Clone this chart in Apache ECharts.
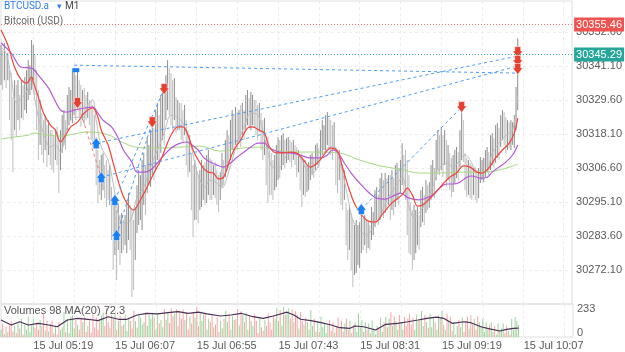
<!DOCTYPE html>
<html>
<head>
<meta charset="utf-8">
<title>BTCUSD.a M1</title>
<script src="https://cdn.jsdelivr.net/npm/echarts@6/dist/echarts.min.js"></script>
<style>
  html, body { margin: 0; padding: 0; background: #fff; }
  #chart { width: 625px; height: 352px; }
</style>
</head>
<body>
<div id="chart"></div>
<script>
// M1 bars of 15 Jul, first bar 05:00, axis runs on to 10:36
const firstMinute = 5 * 60;
const slotCount = 337;
const labelFirst = 19;   // 05:19
const labelStep = 48;
const gridStep = 24;

const priceTicks = [30272.1, 30283.6, 30295.1, 30306.6, 30318.1, 30329.6, 30341.1, 30352.6];
const volumeTicks = [0, 233];
const askPrice = 30355.46;
const bidPrice = 30345.29;

const highs = [
  30348.2, 30346.5, 30348.9, 30344.8, 30345.5, 30339.7, 30338.7, 30330.6, 30336.3, 30334.7,
  30336.3, 30331.3, 30336.3, 30334.7, 30337.4, 30339.7, 30343.1, 30341.4, 30349.9, 30348.2,
  30344.8, 30339.7, 30333.0, 30329.6, 30325.2, 30322.8, 30324.5, 30321.1, 30322.8, 30319.4,
  30319.4, 30317.7, 30319.4, 30320.5, 30316.1, 30319.4, 30324.5, 30326.2, 30322.8, 30331.3,
  30334.0, 30333.0, 30339.1, 30339.7, 30338.0, 30339.1, 30336.3, 30334.7, 30333.0, 30333.6,
  30331.3, 30332.3, 30329.6, 30329.6, 30327.9, 30324.5, 30317.1, 30312.7, 30309.3, 30311.0,
  30311.7, 30307.6, 30309.3, 30305.9, 30307.6, 30300.2, 30295.8, 30297.5, 30292.4, 30294.8,
  30290.7, 30291.4, 30289.0, 30290.7, 30295.8, 30298.1, 30294.1, 30292.4, 30289.0, 30293.4,
  30300.8, 30305.9, 30304.2, 30309.3, 30311.7, 30307.6, 30317.1, 30314.4, 30319.4, 30322.8,
  30320.1, 30326.2, 30328.6, 30324.5, 30331.3, 30334.0, 30332.3, 30338.0, 30343.1, 30340.4,
  30338.7, 30336.3, 30337.0, 30330.6, 30329.6, 30328.6, 30328.6, 30326.2, 30327.9, 30322.8,
  30319.4, 30317.7, 30311.7, 30307.6, 30309.3, 30306.9, 30304.2, 30305.9, 30309.3, 30307.6,
  30308.6, 30311.0, 30312.7, 30310.0, 30309.3, 30307.6, 30308.6, 30305.9, 30304.2, 30305.2,
  30311.7, 30309.3, 30316.1, 30319.4, 30317.7, 30322.8, 30326.2, 30324.5, 30327.2, 30325.5,
  30326.2, 30327.9, 30328.6, 30326.2, 30331.3, 30333.0, 30330.3, 30332.3, 30331.3, 30329.6,
  30329.6, 30327.9, 30328.6, 30325.2, 30322.8, 30323.5, 30316.1, 30317.1, 30312.7, 30311.7,
  30309.3, 30311.0, 30314.4, 30317.1, 30316.1, 30317.7, 30318.4, 30316.1, 30316.7, 30317.1,
  30316.1, 30315.4, 30316.1, 30314.4, 30313.7, 30312.7, 30311.0, 30311.7, 30309.3, 30309.3,
  30307.6, 30308.6, 30311.0, 30311.7, 30310.0, 30314.4, 30315.0, 30313.3, 30319.4, 30322.8,
  30321.1, 30324.5, 30325.5, 30323.5, 30322.8, 30321.1, 30322.1, 30313.7, 30311.0, 30312.7,
  30309.3, 30307.6, 30305.9, 30294.8, 30292.4, 30294.1, 30291.4, 30289.0, 30287.3, 30289.0,
  30287.3, 30288.3, 30291.4, 30289.7, 30290.7, 30289.0, 30288.3, 30287.3, 30293.4, 30291.7,
  30299.1, 30300.2, 30297.5, 30303.2, 30304.9, 30302.5, 30304.9, 30303.2, 30304.2, 30304.2,
  30305.9, 30303.2, 30307.6, 30308.3, 30306.6, 30309.3, 30315.0, 30311.0, 30312.7, 30309.3,
  30304.2, 30294.8, 30292.4, 30294.1, 30292.4, 30293.4, 30290.7, 30299.1, 30300.2, 30297.5,
  30302.5, 30300.8, 30301.8, 30307.6, 30309.3, 30306.6, 30316.1, 30319.4, 30317.7, 30320.5,
  30317.7, 30319.4, 30316.1, 30314.4, 30311.7, 30310.0, 30311.0, 30312.7, 30313.7, 30312.0,
  30319.4, 30326.2, 30322.8, 30311.7, 30310.0, 30309.3, 30308.3, 30307.6, 30306.6, 30306.9,
  30305.9, 30306.6, 30310.3, 30309.3, 30310.0, 30312.7, 30313.7, 30312.0, 30317.7, 30318.4,
  30316.7, 30321.1, 30321.8, 30320.1, 30324.5, 30326.2, 30325.5, 30323.8, 30322.8, 30322.1,
  30322.8, 30322.1, 30324.5, 30334.0, 30350.5
];

const lows = [
  30334.7, 30333.0, 30336.3, 30333.6, 30336.3, 30322.8, 30316.1, 30305.2, 30319.4, 30317.1,
  30322.8, 30319.4, 30323.5, 30322.8, 30326.2, 30325.2, 30329.6, 30331.3, 30333.0, 30336.3,
  30331.3, 30319.4, 30309.3, 30314.4, 30311.0, 30308.3, 30312.7, 30306.9, 30311.0, 30307.6,
  30305.9, 30304.9, 30309.3, 30307.6, 30298.1, 30305.9, 30311.7, 30314.4, 30312.7, 30319.4,
  30321.1, 30322.8, 30321.8, 30324.5, 30322.8, 30326.2, 30323.5, 30320.5, 30322.8, 30321.1,
  30322.8, 30323.5, 30321.1, 30316.1, 30313.7, 30314.4, 30300.8, 30294.8, 30297.5, 30295.8,
  30299.1, 30296.4, 30293.4, 30295.8, 30294.1, 30282.2, 30272.1, 30277.2, 30268.7, 30278.9,
  30273.8, 30277.8, 30278.9, 30280.5, 30277.8, 30282.2, 30278.9, 30263.0, 30265.3, 30275.5,
  30284.6, 30287.3, 30289.0, 30285.6, 30294.1, 30290.7, 30298.1, 30300.8, 30300.2, 30304.2,
  30302.5, 30305.9, 30309.3, 30307.6, 30311.7, 30316.1, 30314.4, 30322.8, 30326.2, 30324.5,
  30321.1, 30319.4, 30322.8, 30318.4, 30319.4, 30319.4, 30316.1, 30315.0, 30317.7, 30307.6,
  30303.5, 30305.2, 30292.4, 30283.2, 30289.0, 30289.0, 30288.0, 30292.4, 30293.4, 30295.8,
  30294.1, 30294.8, 30297.5, 30295.8, 30295.8, 30297.5, 30296.4, 30294.1, 30291.7, 30295.8,
  30300.2, 30300.8, 30303.5, 30305.9, 30306.6, 30309.3, 30312.7, 30311.0, 30314.4, 30312.7,
  30316.1, 30313.7, 30317.7, 30316.1, 30319.4, 30321.1, 30320.1, 30319.4, 30321.1, 30320.1,
  30317.7, 30316.1, 30318.8, 30312.7, 30309.3, 30311.0, 30300.8, 30294.8, 30297.5, 30297.5,
  30295.8, 30299.1, 30300.2, 30302.5, 30303.2, 30305.9, 30307.6, 30306.6, 30308.3, 30309.3,
  30308.6, 30306.9, 30309.3, 30307.6, 30303.5, 30305.2, 30299.1, 30293.4, 30297.5, 30296.8,
  30298.5, 30299.1, 30302.5, 30304.2, 30303.2, 30305.9, 30307.6, 30306.6, 30309.3, 30311.0,
  30312.7, 30311.7, 30314.4, 30312.7, 30311.0, 30309.3, 30312.7, 30300.8, 30298.1, 30302.5,
  30294.1, 30292.4, 30295.8, 30280.5, 30275.5, 30278.9, 30272.1, 30266.3, 30270.4, 30271.1,
  30273.8, 30272.8, 30277.8, 30278.9, 30280.5, 30277.8, 30279.5, 30278.9, 30282.2, 30283.9,
  30286.6, 30289.0, 30287.3, 30289.0, 30290.7, 30289.7, 30291.4, 30292.4, 30294.1, 30289.0,
  30292.4, 30290.7, 30293.4, 30295.8, 30294.1, 30298.1, 30300.8, 30299.1, 30295.8, 30283.9,
  30277.8, 30277.2, 30272.1, 30275.5, 30277.8, 30280.5, 30278.9, 30286.6, 30288.3, 30287.3,
  30291.4, 30292.4, 30293.1, 30295.8, 30297.5, 30296.4, 30302.5, 30305.9, 30304.2, 30305.9,
  30303.5, 30307.6, 30300.2, 30302.5, 30299.1, 30296.8, 30298.5, 30301.5, 30303.2, 30302.5,
  30306.9, 30309.3, 30308.6, 30299.1, 30296.8, 30297.5, 30296.4, 30295.8, 30297.5, 30295.8,
  30294.8, 30296.4, 30301.5, 30302.5, 30301.8, 30303.5, 30305.2, 30304.2, 30305.9, 30307.6,
  30306.6, 30308.3, 30310.0, 30309.3, 30313.7, 30316.1, 30314.4, 30311.7, 30312.7, 30313.3,
  30312.7, 30314.4, 30313.3, 30319.4, 30326.2
];

const volumes = [
  60, 110, 25, 85, 40, 95, 130, 45, 90, 30, 120, 70, 150, 20, 100, 60, 165, 40,
  100, 150, 75, 120, 60, 140, 90, 190, 55, 130, 45, 110, 135, 30, 95, 20, 120, 60,
  80, 205, 40, 150, 30, 170, 175, 70, 140, 100, 60, 160, 120, 165, 40, 90, 150, 35,
  190, 80, 160, 60, 130, 175, 200, 90, 235, 120, 75, 180, 150, 190, 60, 130, 170, 90,
  100, 185, 50, 160, 130, 70, 215, 130, 75, 190, 160, 100, 120, 205, 90, 180, 150, 195,
  160, 60, 190, 110, 140, 80, 230, 140, 200, 115, 235, 170, 190, 230, 90, 210, 150, 225,
  140, 200, 60, 170, 110, 205, 160, 245, 90, 200, 130, 185, 190, 60, 150, 120, 175, 80,
  100, 160, 40, 130, 70, 150, 215, 120, 190, 60, 170, 140, 150, 230, 95, 210, 180, 120,
  200, 60, 170, 130, 90, 185, 130, 30, 160, 80, 50, 140, 90, 190, 120, 60, 175, 150,
  240, 130, 220, 95, 245, 180, 200, 235, 150, 225, 120, 210, 180, 70, 205, 130, 100, 160,
  120, 60, 221, 90, 150, 45, 130, 40, 165, 80, 110, 30, 100, 139, 50, 120, 35, 90,
  160, 70, 130, 45, 110, 150, 60, 135, 30, 100, 120, 40, 194, 80, 140, 40, 120, 60,
  110, 30, 135, 70, 20, 90, 70, 160, 40, 120, 165, 80, 150, 203, 90, 170, 130, 60,
  180, 120, 60, 165, 90, 150, 190, 100, 160, 60, 185, 130, 140, 213, 90, 180, 120, 75,
  190, 80, 160, 120, 60, 175, 150, 213, 100, 60, 190, 130, 165, 50, 120, 20, 90, 140,
  80, 160, 40, 130, 165, 70, 180, 100, 150, 60, 170, 120, 90, 150, 40, 120, 60, 100,
  120, 40, 90, 20, 110, 60, 70, 110, 30, 95, 50, 20, 150, 60, 164, 130, 98
];

// moving averages as [bar index, value]
const maFast = [
  [0, 30347.5], [3, 30345.5], [6, 30337.4], [9, 30328.6], [12, 30330.3], [15, 30332.3], [18, 30337.4],
  [19, 30333.0], [22, 30323.8], [25, 30318.4], [29, 30313.7], [32, 30314.4], [35, 30312.0], [37, 30315.0],
  [39, 30320.5], [42, 30323.5], [45, 30323.8], [48, 30323.5], [51, 30327.9], [54, 30329.6], [56, 30322.8],
  [59, 30313.7], [63, 30309.3], [66, 30301.5], [70, 30289.0], [74, 30288.0], [77, 30290.0], [80, 30296.8],
  [84, 30300.2], [88, 30306.9], [92, 30312.7], [96, 30318.4], [100, 30324.5], [104, 30323.8], [107, 30321.8],
  [111, 30316.1], [114, 30308.3], [117, 30302.5], [120, 30300.2], [123, 30302.5], [127, 30301.5], [130, 30299.8],
  [133, 30303.5], [136, 30309.3], [139, 30315.0], [143, 30320.5], [147, 30325.2], [151, 30324.5], [154, 30319.4],
  [157, 30312.0], [160, 30306.9], [164, 30306.9], [168, 30311.0], [172, 30311.7], [176, 30310.3], [180, 30305.9],
  [184, 30305.2], [188, 30309.3], [192, 30313.3], [195, 30313.7], [199, 30309.3], [204, 30296.8], [207, 30289.0],
  [211, 30285.6], [215, 30283.9], [219, 30286.6], [223, 30290.0], [227, 30295.8], [232, 30300.2], [236, 30303.5],
  [240, 30293.4], [243, 30290.0], [246, 30291.4], [250, 30295.1], [254, 30300.2], [258, 30306.6], [262, 30308.3],
  [266, 30306.9], [270, 30309.3], [273, 30311.0], [276, 30309.3], [279, 30305.9], [282, 30304.9], [286, 30305.9],
  [289, 30311.7], [293, 30315.0], [297, 30317.7], [301, 30319.4], [304, 30331.3]
];

const maRed = [
  [0, 30353.3], [4, 30348.2], [8, 30340.7], [12, 30336.3], [15, 30335.3], [18, 30337.4], [19, 30335.7],
  [22, 30330.6], [25, 30325.2], [29, 30321.1], [32, 30319.4], [35, 30315.4], [38, 30317.7], [41, 30320.5],
  [45, 30322.1], [49, 30325.2], [54, 30326.9], [57, 30323.8], [59, 30319.4], [63, 30314.4], [66, 30308.3],
  [70, 30300.2], [73, 30295.8], [78, 30292.4], [82, 30295.8], [86, 30300.2], [90, 30304.9], [94, 30309.3],
  [97, 30313.7], [100, 30317.7], [104, 30320.5], [107, 30320.5], [110, 30317.7], [113, 30312.7], [116, 30309.3],
  [119, 30306.6], [122, 30305.2], [125, 30304.9], [128, 30302.9], [131, 30303.5], [134, 30308.3], [137, 30312.7],
  [141, 30316.1], [145, 30320.1], [148, 30320.5], [152, 30319.4], [155, 30318.4], [158, 30313.7], [162, 30311.7],
  [166, 30311.7], [170, 30312.0], [174, 30311.7], [178, 30309.3], [182, 30306.9], [186, 30308.3], [189, 30310.3],
  [194, 30313.3], [198, 30312.3], [201, 30306.6], [205, 30299.1], [209, 30293.4], [215, 30289.0], [220, 30288.3],
  [225, 30291.4], [230, 30294.8], [236, 30297.5], [239, 30299.8], [242, 30297.5], [245, 30293.7], [248, 30294.1],
  [252, 30296.1], [256, 30298.5], [260, 30301.2], [264, 30303.5], [268, 30304.9], [272, 30307.3], [276, 30306.9],
  [280, 30305.2], [283, 30304.9], [287, 30306.6], [291, 30310.0], [295, 30312.7], [299, 30315.0], [302, 30318.4],
  [304, 30323.5]
];

const maPurple = [
  [0, 30348.9], [6, 30345.5], [12, 30340.7], [18, 30340.4], [22, 30338.0], [28, 30333.6], [31, 30330.3],
  [35, 30326.2], [39, 30325.5], [43, 30326.2], [49, 30326.9], [54, 30327.2], [57, 30325.2], [60, 30322.8],
  [65, 30320.5], [69, 30316.7], [72, 30312.7], [77, 30308.6], [80, 30305.2], [84, 30305.2], [88, 30305.9],
  [92, 30308.3], [96, 30311.0], [100, 30313.3], [104, 30314.7], [109, 30315.4], [111, 30315.0], [116, 30312.7],
  [119, 30310.3], [123, 30308.6], [127, 30307.6], [131, 30306.9], [135, 30308.3], [139, 30310.3], [143, 30312.0],
  [147, 30313.7], [151, 30315.0], [155, 30315.0], [158, 30313.3], [164, 30312.0], [170, 30311.7], [176, 30311.0],
  [182, 30310.0], [188, 30310.0], [192, 30311.0], [195, 30312.7], [198, 30312.0], [202, 30308.3], [206, 30304.9],
  [211, 30301.5], [216, 30298.5], [221, 30296.4], [226, 30296.1], [232, 30297.5], [235, 30298.1], [240, 30296.4],
  [246, 30295.8], [250, 30296.4], [254, 30297.5], [258, 30299.8], [262, 30301.2], [266, 30301.2], [270, 30301.8],
  [274, 30303.5], [277, 30303.9], [282, 30303.2], [286, 30303.5], [289, 30305.2], [293, 30306.9], [297, 30308.6],
  [301, 30311.0], [304, 30314.4]
];

const maGreen = [
  [0, 30316.4], [8, 30317.1], [16, 30317.7], [19, 30318.4], [28, 30317.7], [35, 30317.4], [43, 30318.1],
  [51, 30318.8], [59, 30318.4], [65, 30317.4], [70, 30315.7], [79, 30313.7], [92, 30313.3], [106, 30313.7],
  [117, 30314.0], [129, 30312.3], [141, 30313.3], [152, 30313.7], [164, 30312.3], [176, 30312.0], [188, 30312.0],
  [199, 30311.7], [211, 30309.3], [223, 30307.3], [235, 30306.2], [246, 30304.9], [258, 30304.9], [270, 30305.2],
  [282, 30305.2], [293, 30305.9], [304, 30307.9]
];

const volumeMa = [
  [0, 139], [6, 98], [11, 125], [16, 98], [22, 112], [28, 98], [33, 84], [39, 139], [45, 153], [51, 145],
  [57, 134], [63, 166], [69, 145], [74, 145], [80, 180], [86, 194], [92, 189], [98, 199], [104, 207], [110, 194],
  [116, 203], [121, 189], [129, 172], [135, 180], [141, 194], [148, 166], [154, 153], [160, 172], [168, 203],
  [172, 180], [176, 145], [182, 134], [188, 117], [194, 98], [199, 76], [205, 71], [208, 90], [213, 84],
  [220, 57], [226, 104], [233, 112], [239, 125], [245, 139], [250, 153], [256, 162], [260, 153], [265, 112],
  [272, 125], [276, 117], [282, 84], [287, 66], [293, 49], [297, 63], [301, 71], [304, 72]
];

// trade markers and the dashed links between them
const sellMarks = [[45, 30328.6], [89, 30322.1], [96, 30333.3], [271, 30327.2], [304, 30345.8], [304, 30342.8], [304, 30340.1]];
const buyMarks = [[56, 30315.0], [59, 30303.5], [67, 30295.8], [68, 30283.9], [212, 30292.7]];
const orderMarks = [[44, 30339.7]];
const blueLinks = [
  [[43, 30341.4], [304, 30338.7]],
  [[56, 30315.0], [304, 30344.5]],
  [[59, 30303.5], [304, 30341.1]],
  [[67, 30295.8], [96, 30333.3]],
  [[68, 30283.9], [89, 30322.1]],
  [[212, 30292.7], [271, 30327.2]]
];
const redLinks = [
  [[46, 30326.9], [59, 30303.5]]
];

const font = 'Liberation Sans, Arial, sans-serif';
const headFont = 'Roboto, Liberation Sans, sans-serif';
// [price, dotted line colour, badge colour]
const priceLines = [
  [askPrice, '#f2746f', '#ef5350'],
  [bidPrice, '#35b0a4', '#26a69a']
];

const categories = [];
for (let i = 0; i < slotCount; i++) {
  const m = firstMinute + i;
  const hh = String(Math.floor(m / 60)).padStart(2, '0');
  const mm = String(m % 60).padStart(2, '0');
  categories.push('15 Jul ' + hh + ':' + mm);
}

const isLabel = (idx) => idx >= labelFirst && (idx - labelFirst) % labelStep === 0;
const isGrid = (idx) => idx >= labelFirst && (idx - labelFirst) % gridStep === 0;

// bar rose against the one before it?
const rising = highs.map((h, i) => i === 0 || h + lows[i] >= highs[i - 1] + lows[i - 1]);

const arrowDown = 'path://M2,0H8V4H10L5,10L0,4H2Z';
const arrowUp = 'path://M5,0L10,6H8V10H2V6H0Z';

const linkSeries = (links, color) => links.map(pair => ({
  type: 'line',
  data: pair,
  symbol: 'none',
  silent: true,
  z: 4,
  lineStyle: { color: color, width: 1, type: [3, 3] }
}));

const maSeries = (data, color, width, z) => ({
  type: 'line',
  data: data,
  symbol: 'none',
  smooth: 0.35,
  silent: true,
  z: z,
  lineStyle: { color: color, width: width }
});

const chart = echarts.init(document.getElementById('chart'));

chart.setOption({
  animation: false,
  backgroundColor: '#fff',
  textStyle: { fontFamily: font },
  grid: [
    { left: 1, right: 52, top: 1, bottom: 48, show: true, borderColor: '#dedede', borderWidth: 1 },
    { left: 1, right: 52, top: 304, bottom: 15, show: true, borderColor: '#dedede', borderWidth: 1 }
  ],
  xAxis: [
    {
      type: 'category', gridIndex: 0, data: categories, boundaryGap: false,
      axisLine: { show: false }, axisTick: { show: false }, axisLabel: { show: false },
      splitLine: { show: true, interval: isGrid, lineStyle: { color: '#ececec', type: [3, 3] } }
    },
    {
      type: 'category', gridIndex: 1, data: categories, boundaryGap: false,
      axisLine: { show: false }, axisTick: { show: false },
      axisLabel: {
        interval: isLabel, align: 'left', margin: 3,
        color: '#5a5a5a', fontSize: 11, fontFamily: font
      },
      splitLine: { show: true, interval: isGrid, lineStyle: { color: '#ececec', type: [3, 3] } }
    }
  ],
  yAxis: [
    {
      type: 'value', gridIndex: 0, position: 'right',
      min: 30260.6, max: 30363.1,
      axisLine: { show: false },
      axisTick: { show: false, customValues: priceTicks },
      axisLabel: {
        customValues: priceTicks, margin: 4, color: '#5a5a5a', fontSize: 11, fontFamily: font,
        formatter: v => v.toFixed(2)
      },
      splitLine: { show: true, lineStyle: { color: '#ececec', type: [3, 3] } }
    },
    {
      type: 'value', gridIndex: 1, position: 'right',
      min: 0, max: 270,
      axisLine: { show: false },
      axisTick: { show: false, customValues: volumeTicks },
      axisLabel: {
        customValues: volumeTicks, margin: 4, color: '#5a5a5a', fontSize: 11, fontFamily: font,
        formatter: v => (v === 0 ? '{low|0}' : String(v)),
        rich: { low: { padding: [0, 0, 9, 0], fontSize: 11, color: '#5a5a5a' } }
      },
      splitLine: { show: false }
    }
  ],
  graphic: [
    { type: 'text', left: 4, top: 1, z: 10, style: { text: 'BTCUSD.a', fill: '#2f80ed', font: '10px ' + headFont } },
    { type: 'text', left: 57, top: 2, z: 10, style: { text: '▾', fill: '#2f80ed', font: '9px DejaVu Sans' } },
    { type: 'text', left: 65, top: 1, z: 10, style: { text: 'M1', fill: '#444', font: '10px ' + headFont } },
    { type: 'text', left: 4, top: 16, z: 10, style: { text: 'Bitcoin (USD)', fill: '#666', font: '10px ' + headFont } },
    { type: 'text', left: 4, top: 305, z: 10, style: { text: 'Volumes 98 MA(20) 72.3', fill: '#555', font: '11px ' + font } }
  ],
  series: [
    {
      type: 'custom',
      xAxisIndex: 0, yAxisIndex: 0,
      data: highs.map((h, i) => [i, lows[i], h]),
      encode: { x: 0, y: [1, 2] },
      silent: true,
      z: 1,
      renderItem: (params, api) => {
        const top = api.coord([api.value(0), api.value(2)]);
        const bottom = api.coord([api.value(0), api.value(1)]);
        return {
          type: 'line',
          shape: { x1: top[0], y1: top[1], x2: bottom[0], y2: bottom[1] },
          style: { stroke: rising[params.dataIndex] ? '#8e8e8e' : '#bdbdbd', lineWidth: 1 }
        };
      }
    },
    maSeries(maFast, '#bdbdbd', 1, 2),
    maSeries(maGreen, '#a9d884', 1, 2),
    maSeries(maPurple, '#b35ad6', 1.2, 3),
    maSeries(maRed, '#f0463b', 1.2, 3),
    {
      // ask / bid price lines across the plot, with their badges on the scale
      type: 'custom',
      xAxisIndex: 0, yAxisIndex: 0,
      data: priceLines.map(p => [0, p[0]]),
      encode: { x: 0, y: 1 },
      silent: true,
      clip: false,
      z: 7,
      renderItem: (params, api) => {
        const cs = params.coordSys;
        const row = priceLines[params.dataIndex];
        const y = Math.round(api.coord([0, api.value(1)])[1]) + 0.5;
        return {
          type: 'group',
          children: [
            {
              type: 'line',
              shape: { x1: cs.x, y1: y, x2: cs.x + cs.width, y2: y },
              style: { stroke: row[1], lineWidth: 1, lineDash: [1, 2] }
            },
            {
              type: 'text',
              x: cs.x + cs.width + 2,
              y: y,
              style: {
                text: row[0].toFixed(2),
                fill: '#fff',
                font: '11px ' + font,
                verticalAlign: 'middle',
                align: 'left',
                backgroundColor: row[2],
                padding: [2, 2, 1, 2]
              }
            }
          ]
        };
      }
    },
    ...linkSeries(blueLinks, '#4a9df8'),
    ...linkSeries(redLinks, '#f07a70'),
    {
      type: 'scatter', data: sellMarks, symbol: arrowDown, symbolSize: [10, 11], z: 6, silent: true,
      itemStyle: { color: '#e8402f', borderColor: '#fff', borderWidth: 0.5, opacity: 1 }
    },
    {
      type: 'scatter', data: buyMarks, symbol: arrowUp, symbolSize: [10, 11], z: 6, silent: true,
      itemStyle: { color: '#1a7ff0', borderColor: '#fff', borderWidth: 0.5, opacity: 1 }
    },
    {
      type: 'scatter', data: orderMarks, symbol: 'rect', symbolSize: [7, 4], z: 6, silent: true,
      itemStyle: { color: '#1a7ff0', opacity: 1 }
    },
    {
      type: 'bar',
      xAxisIndex: 1, yAxisIndex: 1,
      barWidth: 1,
      silent: true,
      data: volumes.map((v, i) => ({
        value: v,
        itemStyle: { color: rising[i] ? '#9fd39c' : '#f6a5a5' }
      }))
    },
    {
      type: 'line',
      xAxisIndex: 1, yAxisIndex: 1,
      data: volumeMa,
      symbol: 'none',
      silent: true,
      z: 3,
      lineStyle: { color: '#4b2f57', width: 1.2 }
    }
  ]
});
</script>
</body>
</html>
